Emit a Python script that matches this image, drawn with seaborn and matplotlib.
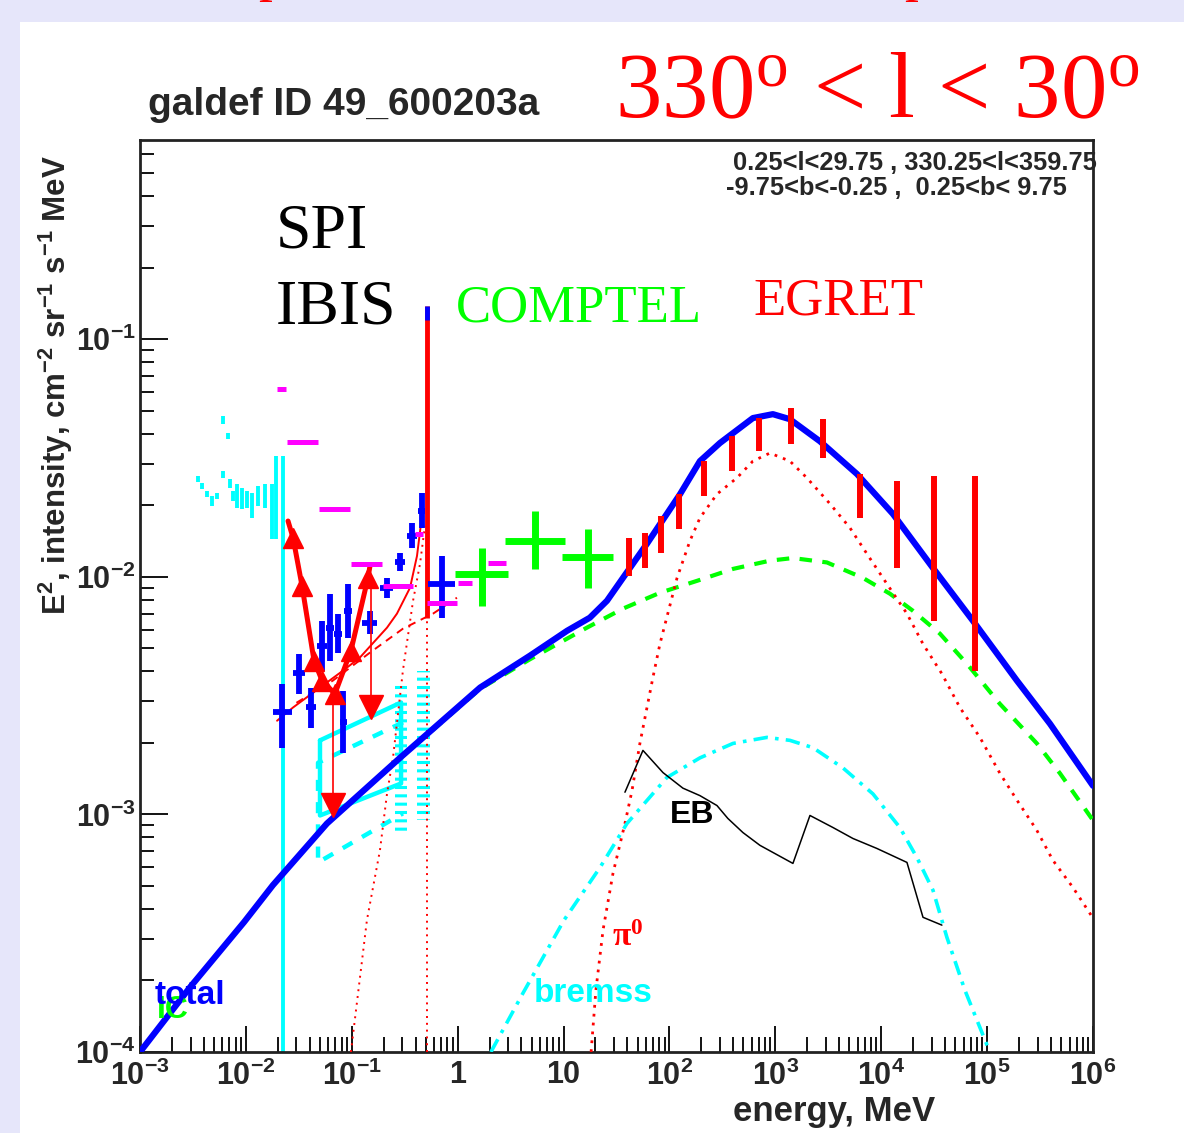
import matplotlib
matplotlib.use("Agg")
import matplotlib.pyplot as plt
import seaborn as sns
import numpy as np
from matplotlib.patches import Rectangle
from matplotlib.ticker import FixedLocator, NullFormatter

# energies in MeV, intensities as E^2 * flux (cm^-2 sr^-1 s^-1 MeV)

# model curves
total_E = [1e-3, 2.96e-3, 9.6e-3, 1.80e-2, 5.83e-2, 0.285, 1.63, 4.82, 10.8, 17.7, 25.7, 36.4, 61.4,
           126, 194, 300, 614, 948, 1370, 2640, 5900, 1.29e4, 3.08e4, 7.35e4, 1.91e5, 3.92e5, 1e6]
total_I = [1.0e-4, 1.87e-4, 3.52e-4, 5.04e-4, 9.16e-4, 1.73e-3, 3.42e-3, 4.66e-3, 5.93e-3, 6.73e-3,
           7.93e-3, 9.9e-3, 1.38e-2, 2.23e-2, 3.07e-2, 3.66e-2, 4.66e-2, 4.84e-2, 4.61e-2, 3.72e-2,
           2.71e-2, 1.84e-2, 1.09e-2, 6.53e-3, 3.66e-3, 2.41e-3, 1.32e-3]

ic_E = [1e-3, 2.96e-3, 9.6e-3, 1.80e-2, 5.83e-2, 0.285, 1.63, 4.82, 16.6, 36.4, 81.3, 182, 398, 889,
        1466, 3069, 6714, 1.21e4, 1.99e4, 3.58e4, 6.44e4, 1.32e5, 2.95e5, 4.87e5, 1e6]
ic_I = [1.0e-4, 1.87e-4, 3.52e-4, 5.04e-4, 9.16e-4, 1.72e-3, 3.38e-3, 4.5e-3, 6.11e-3, 7.35e-3,
        8.57e-3, 9.62e-3, 1.08e-2, 1.17e-2, 1.20e-2, 1.15e-2, 9.9e-3, 8.49e-3, 7.20e-3, 5.77e-3,
        4.31e-3, 2.92e-3, 1.99e-3, 1.49e-3, 9.44e-4]

pi0_E = [18.2, 20.2, 23.6, 29.3, 38.0, 44.3, 52.6, 69.8, 81.3, 118, 156, 194, 281, 434, 614, 889,
         1374, 1986, 3281, 5058, 7328, 1.13e4, 1.75e4, 2.48e4, 3.74e4, 5.53e4, 8.55e4, 1.32e5,
         1.91e5, 2.95e5, 4.18e5, 6.46e5, 1e6]
pi0_I = [1.0e-4, 1.82e-4, 3.26e-4, 5.65e-4, 9.16e-4, 1.26e-3, 1.99e-3, 3.77e-3, 5.22e-3, 9.9e-3,
         1.416e-2, 1.77e-2, 2.23e-2, 2.61e-2, 3.07e-2, 3.32e-2, 3.07e-2, 2.61e-2, 2.03e-2, 1.61e-2,
         1.25e-2, 9.35e-3, 7.0e-3, 5.22e-3, 3.91e-3, 2.82e-3, 2.11e-3, 1.49e-3, 1.15e-3, 8.57e-4,
         6.41e-4, 4.93e-4, 3.66e-4]

brem_E = [2.06, 4.14, 10.1, 22.1, 39.7, 94.6, 194, 398, 833, 1374, 2265, 4348, 8356, 1.50e4,
          2.17e4, 3.08e4, 4.17e4, 6.17e4, 1.06e5]
brem_I = [1.0e-4, 1.77e-4, 3.59e-4, 5.98e-4, 9.16e-4, 1.43e-3, 1.73e-3, 1.99e-3, 2.11e-3, 2.05e-3,
          1.91e-3, 1.57e-3, 1.22e-3, 8.81e-4, 6.59e-4, 4.80e-4, 3.04e-4, 1.82e-4, 1.0e-4]

eb_E = [38.0, 56.2, 86.9, 134, 194, 281, 356, 494, 716, 1466, 2123, 3499, 5408, 9105, 1.75e4,
        2.48e4, 3.74e4]
eb_I = [1.24e-3, 1.86e-3, 1.50e-3, 1.29e-3, 1.20e-3, 1.09e-3, 9.62e-4, 8.39e-4, 7.41e-4, 6.22e-4,
        9.9e-4, 8.81e-4, 7.92e-4, 7.19e-4, 6.28e-4, 3.69e-4, 3.42e-4]

# low-energy model (fit, continuum, positronium, 511 keV line)
fit_E = [0.0197, 0.0279, 0.0501, 0.0826, 0.119, 0.215, 0.267, 0.355, 0.413, 0.470]
fit_I = [2.48e-3, 2.82e-3, 3.42e-3, 4.03e-3, 4.57e-3, 6.11e-3, 7.0e-3, 9.0e-3, 1.225e-2, 1.95e-2]
cont_E = [0.0300, 0.0664, 0.1486, 0.304, 0.585, 0.984]
cont_I = [2.95e-3, 3.66e-3, 4.80e-3, 6.05e-3, 7.0e-3, 8.17e-3]
ps_E = [0.0982, 0.139, 0.1845, 0.215, 0.245, 0.304, 0.379, 0.441, 0.491]
ps_I = [1.0e-4, 3.59e-4, 7.06e-4, 1.22e-3, 1.73e-3, 4.03e-3, 7.93e-3, 1.135e-2, 1.64e-2]
line_E = 0.511
line_dot = [1.0e-4, 1.52e-2]
line_spike = [6.7e-3, 0.138]
line_data = [0.121, 0.138]

# SPI low-energy points (cyan)
spi_E = [3.53e-3, 3.85e-3, 4.30e-3, 4.79e-3, 5.33e-3, 6.08e-3, 6.78e-3, 6.08e-3, 7.08e-3, 7.55e-3,
         8.24e-3, 9.18e-3, 1.02e-2, 1.14e-2, 1.30e-2, 1.51e-2, 1.76e-2, 1.92e-2, 2.24e-2]
spi_lo = [2.51e-2, 2.34e-2, 2.17e-2, 1.99e-2, 2.13e-2, 4.40e-2, 3.80e-2, 2.61e-2, 2.37e-2, 2.08e-2,
          1.95e-2, 1.93e-2, 1.95e-2, 1.77e-2, 1.99e-2, 1.95e-2, 1.445e-2, 1.445e-2, 1.0e-4]
spi_hi = [2.65e-2, 2.49e-2, 2.30e-2, 2.19e-2, 2.25e-2, 4.74e-2, 4.03e-2, 2.79e-2, 2.58e-2, 2.30e-2,
          2.46e-2, 2.37e-2, 2.30e-2, 2.25e-2, 2.41e-2, 2.46e-2, 2.46e-2, 3.22e-2, 3.22e-2]

# SPI bins (magenta)
spim_lo = [0.0197, 0.0244, 0.049, 0.098, 0.197, 0.395, 0.513, 1.0, 1.93]
spim_hi = [0.0239, 0.048, 0.0962, 0.193, 0.379, 0.470, 0.984, 1.36, 2.86]
spim_I = [0.0617, 0.0369, 0.0193, 0.01135, 9.16e-3, 0.0152, 7.78e-3, 9.44e-3, 0.01145]

# IBIS points (blue)
ibis_E = [0.0219, 0.0317, 0.0412, 0.0524, 0.0622, 0.0741, 0.0826, 0.0920, 0.1486, 0.2148, 0.285,
          0.370, 0.460, 0.711]
ibis_Elo = [0.0180, 0.0279, 0.0370, 0.0469, 0.0570, 0.0679, 0.0775, 0.0843, 0.1247, 0.1845, 0.256,
            0.332, 0.422, 0.525]
ibis_Ehi = [0.0272, 0.0361, 0.0459, 0.0583, 0.0679, 0.0807, 0.0902, 0.1005, 0.173, 0.245, 0.318,
            0.413, 0.491, 0.944]
ibis_I = [2.71e-3, 3.95e-3, 2.82e-3, 5.13e-3, 6.11e-3, 5.77e-3, 2.46e-3, 7.19e-3, 6.41e-3, 9.0e-3,
          1.156e-2, 1.486e-2, 1.89e-2, 9.35e-3]
ibis_Ilo = [1.91e-3, 3.22e-3, 2.30e-3, 4.03e-3, 4.44e-3, 4.80e-3, 1.82e-3, 5.55e-3, 5.77e-3, 8.17e-3,
            1.06e-2, 1.32e-2, 1.61e-2, 6.73e-3]
ibis_Ihi = [3.55e-3, 4.74e-3, 3.42e-3, 6.53e-3, 8.49e-3, 7.0e-3, 3.32e-3, 9.35e-3, 7.19e-3, 9.9e-3,
            1.26e-2, 1.69e-2, 2.25e-2, 1.225e-2]

# red SPI spectrum with arrows
v_E = [0.0250, 0.0279, 0.0339, 0.0440, 0.0524, 0.0693, 0.0982, 0.1422, 0.1486]
v_I = [1.718e-2, 1.459e-2, 9.16e-3, 4.44e-3, 3.66e-3, 3.22e-3, 4.89e-3, 9.9e-3, 1.112e-2]
arr_E = [0.0664, 0.1517]
arr_top = [3.01e-3, 9.6e-3]
arr_bot = [1.10e-3, 2.82e-3]

# cyan boxes and hatched bands
box_solid_E = [0.0501, 0.292, 0.292, 0.0501, 0.0501]
box_solid_I = [2.05e-3, 2.96e-3, 1.35e-3, 9.9e-4, 2.05e-3]
box_dash_E = [0.304, 0.048, 0.048, 0.304]
box_dash_I = [2.44e-3, 1.65e-3, 6.28e-4, 1.01e-3]
hatch_Elo = [0.256, 0.413]
hatch_Ehi = [0.332, 0.547]
hatch_Ilo = [8.32e-4, 9.44e-4]
hatch_Ihi = [3.55e-3, 4.03e-3]

# COMPTEL (green)
comp_E = [1.695, 5.37, 17.0]
comp_Elo = [0.944, 2.80, 9.66]
comp_Ehi = [2.99, 10.3, 29.3]
comp_I = [1.03e-2, 1.416e-2, 1.213e-2]
comp_Ilo = [7.55e-3, 1.08e-2, 9.0e-3]
comp_Ihi = [1.325e-2, 1.89e-2, 1.59e-2]

# EGRET (red)
egret_E = [41.8, 59.2, 83.7, 122, 212, 387, 707, 1414, 2828, 6325, 14142, 31623, 77460]
egret_lo = [1.01e-2, 1.09e-2, 1.26e-2, 1.59e-2, 2.19e-2, 2.79e-2, 3.38e-2, 3.62e-2, 3.16e-2,
            1.77e-2, 1.09e-2, 6.53e-3, 4.03e-3]
egret_hi = [1.46e-2, 1.53e-2, 1.80e-2, 2.23e-2, 3.07e-2, 3.91e-2, 4.66e-2, 5.13e-2, 4.61e-2,
            2.71e-2, 2.53e-2, 2.65e-2, 2.65e-2]

x_ticks = [1e-3, 1e-2, 1e-1, 1, 10, 1e2, 1e3, 1e4, 1e5, 1e6]
x_labels = ["$10^{-3}$", "$10^{-2}$", "$10^{-1}$", "1", "10", "$10^{2}$", "$10^{3}$",
            "$10^{4}$", "$10^{5}$", "$10^{6}$"]
y_ticks = [1e-4, 1e-3, 1e-2, 1e-1]
y_labels = ["$10^{-4}$", "$10^{-3}$", "$10^{-2}$", "$10^{-1}$"]

RED, BLUE, GREEN, CYAN, MAG = "#ff0000", "#0000ff", "#00ff00", "#00ffff", "#ff00ff"

sns.set_theme(style="white")
plt.rcParams["font.family"] = ["Liberation Sans", "DejaVu Sans"]
plt.rcParams["mathtext.default"] = "regular"
plt.rcParams["hatch.linewidth"] = 2.2
plt.rcParams["hatch.color"] = CYAN

W, H = 1184, 1133
fig = plt.figure(figsize=(W / 100, H / 100), dpi=100, facecolor="#e6e6fa")
fig.add_artist(Rectangle((20 / W, 0), 1 - 20 / W, 1 - 22 / H, transform=fig.transFigure,
                         facecolor="white", edgecolor="none", zorder=-10))


def fx(px):
    return px / W


def fy(py):
    return 1 - py / H


ax = fig.add_axes([fx(140), fy(1052), (1093 - 140) / W, (1052 - 140) / H])
ax.set_xscale("log")
ax.set_yscale("log")
ax.set_xlim(1e-3, 1e6)
ax.set_ylim(1e-4, 0.69)
ax.set_facecolor("white")


def curve(x, y, z=3, **kw):
    sns.lineplot(x=x, y=y, ax=ax, estimator=None, sort=False, zorder=z, **kw)


# cyan SPI points and boxes
ax.vlines(spi_E, spi_lo, spi_hi, colors=CYAN, lw=2.8, zorder=2)
ax.plot(box_solid_E, box_solid_I, color=CYAN, lw=3.2, zorder=2)
ax.plot(box_dash_E, box_dash_I, color=CYAN, lw=3.2, ls=(0, (2.5, 2.5)), zorder=2)
for e0, e1, i0, i1 in zip(hatch_Elo, hatch_Ehi, hatch_Ilo, hatch_Ihi):
    ax.fill_betweenx([i0, i1], e0, e1, facecolor="none", edgecolor=CYAN, hatch="--",
                     linewidth=0, zorder=2)

# model components
curve(ic_E, ic_I, color=GREEN, lw=3, linestyle=(0, (3, 2.5)))
curve(pi0_E, pi0_I, color=RED, lw=2, linestyle=(0, (1, 2.2)))
curve(brem_E, brem_I, color=CYAN, lw=2.6, linestyle=(0, (4, 2, 1, 2)))
curve(eb_E, eb_I, color="black", lw=1.1)
curve(fit_E, fit_I, color=RED, lw=1.4)
curve(cont_E, cont_I, color=RED, lw=1.4, linestyle=(0, (4, 3)))
curve(ps_E, ps_I, color=RED, lw=1.4, linestyle=(0, (1, 2.5)))
ax.vlines(line_E, *line_dot, colors=RED, lw=1.4, linestyles=(0, (1, 2.5)), zorder=3)
ax.vlines(line_E, *line_spike, colors=RED, lw=3.5, zorder=3)
ax.vlines(line_E, *line_data, colors=BLUE, lw=3.5, zorder=3)
curve(total_E, total_I, z=4, color=BLUE, lw=4.5)

# IBIS
ibis_E_a = np.array(ibis_E)
ibis_I_a = np.array(ibis_I)
ax.errorbar(ibis_E, ibis_I,
            xerr=[ibis_E_a - np.array(ibis_Elo), np.array(ibis_Ehi) - ibis_E_a],
            yerr=[ibis_I_a - np.array(ibis_Ilo), np.array(ibis_Ihi) - ibis_I_a],
            fmt="none", ecolor=BLUE, elinewidth=4.2, capsize=0, zorder=5)

# red SPI spectrum with arrow heads
ax.plot(v_E, v_I, color=RED, lw=3.6, zorder=6)
ax.plot(v_E[1:-1], v_I[1:-1], ls="none", marker="^", ms=15, color=RED, mec=RED, zorder=6)
ax.vlines(arr_E, arr_bot, arr_top, colors=RED, lw=1.2, zorder=6)
ax.plot(arr_E, arr_bot, ls="none", marker="v", ms=17, color=RED, mec=RED, zorder=6)

# SPI bins
ax.hlines(spim_I, spim_lo, spim_hi, colors=MAG, lw=3.6, zorder=6)

# COMPTEL
comp_E_a = np.array(comp_E)
comp_I_a = np.array(comp_I)
ax.errorbar(comp_E, comp_I,
            xerr=[comp_E_a - np.array(comp_Elo), np.array(comp_Ehi) - comp_E_a],
            yerr=[comp_I_a - np.array(comp_Ilo), np.array(comp_Ihi) - comp_I_a],
            fmt="none", ecolor=GREEN, elinewidth=5, capsize=0, zorder=6)

# EGRET
ax.vlines(egret_E, egret_lo, egret_hi, colors=RED, lw=4.3, zorder=6)

# axes styling, ROOT-like
for s in ax.spines.values():
    s.set_color("#222222")
    s.set_linewidth(2)
ax.set_xticks(x_ticks, labels=x_labels, fontsize=22, fontweight="bold")
ax.set_yticks(y_ticks, labels=y_labels, fontsize=22, fontweight="bold")
ax.xaxis.set_minor_locator(FixedLocator([m * 10.0 ** k for k in range(-3, 6) for m in range(2, 10)]))
ax.yaxis.set_minor_locator(FixedLocator([m * 10.0 ** k for k in range(-4, 0) for m in range(2, 10)]))
ax.xaxis.set_minor_formatter(NullFormatter())
ax.yaxis.set_minor_formatter(NullFormatter())
ax.tick_params(which="both", direction="in", bottom=True, left=True, top=False, right=False,
               color="black", width=1.3)
ax.tick_params(axis="x", which="major", length=19, pad=6)
ax.tick_params(axis="y", which="major", length=20, pad=3)
ax.tick_params(axis="x", which="minor", length=10.5)
ax.tick_params(axis="y", which="minor", length=10)
ax.grid(False)

# in-plot labels
fig.text(fx(157), fy(1018), "IC", color=GREEN, fontsize=23, fontweight="bold", va="baseline")
fig.text(fx(155), fy(1004), "total", color=BLUE, fontsize=24, fontweight="bold", va="baseline")
fig.text(fx(534), fy(1002), "bremss", color=CYAN, fontsize=24, fontweight="bold", va="baseline")
fig.text(fx(612), fy(946), "π$^{0}$", color=RED, fontsize=24, fontweight="bold",
         family="Liberation Serif", va="baseline")
fig.text(fx(670), fy(823), "EB", color="black", fontsize=23, fontweight="bold", va="baseline")

serif = ["Liberation Serif", "DejaVu Serif"]
fig.text(fx(276), fy(247), "SPI", color="black", fontsize=46, family=serif, va="baseline")
fig.text(fx(276), fy(323), "IBIS", color="black", fontsize=46, family=serif, va="baseline")
fig.text(fx(456), fy(322), "COMPTEL", color=GREEN, fontsize=38, family=serif, va="baseline")
fig.text(fx(753), fy(315), "EGRET", color=RED, fontsize=38, family=serif, va="baseline")

fig.text(fx(733), fy(170), "0.25<l<29.75 , 330.25<l<359.75", fontsize=18.3, fontweight="bold",
         va="baseline")
fig.text(fx(726), fy(195), "-9.75<b<-0.25 ,  0.25<b< 9.75", fontsize=18.3, fontweight="bold",
         va="baseline")

# titles and axis labels
fig.text(fx(148), fy(115), "galdef ID 49_600203a", fontsize=28, fontweight="bold", va="baseline")
fig.text(fx(615), fy(117), "330$^{o}$ < l < 30$^{o}$", color=RED, fontsize=67, family=serif,
         va="baseline")
for px in (272, 918):
    fig.text(fx(px), 1 + 10 / H, "p", color=RED, fontsize=40, family=serif, ha="center",
             va="baseline")
fig.text(fx(66), fy(155), "E$^{2}$, intensity, cm$^{-2}$ sr$^{-1}$ s$^{-1}$ MeV", rotation=90,
         rotation_mode="anchor", ha="right", va="baseline", fontsize=22.5, fontweight="bold")
fig.text(fx(935), fy(1121), "energy, MeV", ha="right", va="baseline", fontsize=25,
         fontweight="bold")

fig.savefig("out.png", dpi=100, facecolor=fig.get_facecolor())
